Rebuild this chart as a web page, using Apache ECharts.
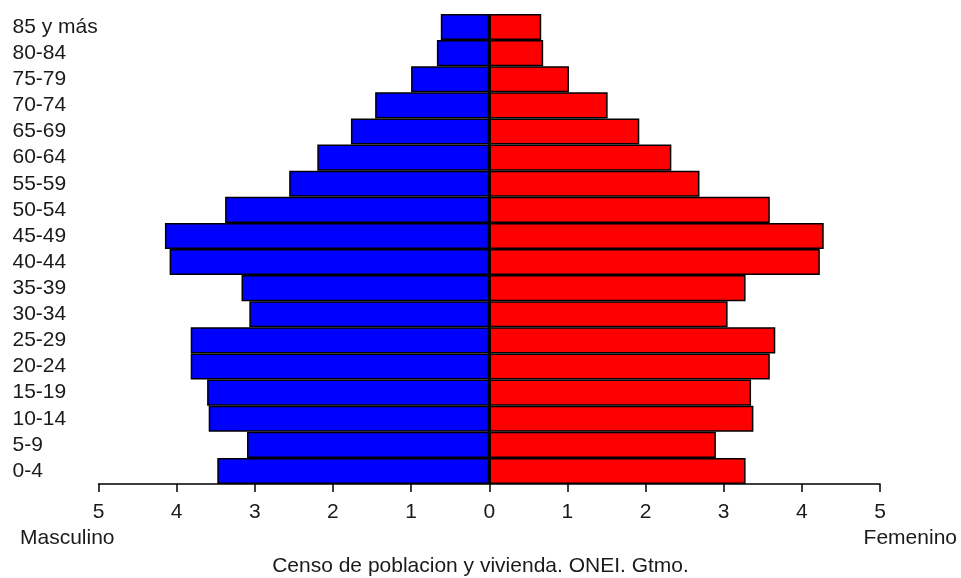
<!DOCTYPE html>
<html>
<head>
<meta charset="utf-8">
<script src="https://cdn.jsdelivr.net/npm/echarts@6/dist/echarts.min.js"></script>
<style>
html,body{margin:0;padding:0;background:#fff;}
#chart{width:961px;height:578px;}
</style>
</head>
<body>
<div id="chart"></div>
<script>
var categories = ['0-4','5-9','10-14','15-19','20-24','25-29','30-34','35-39','40-44','45-49','50-54','55-59','60-64','65-69','70-74','75-79','80-84','85 y más'];
var masculino = [3.48,3.10,3.59,3.61,3.82,3.82,3.07,3.17,4.09,4.15,3.38,2.56,2.20,1.77,1.46,1.00,0.67,0.62];
var femenino  = [3.28,2.90,3.38,3.35,3.59,3.66,3.05,3.28,4.23,4.28,3.59,2.69,2.33,1.92,1.515,1.02,0.69,0.665];
var xTicks = [-5,-4,-3,-2,-1,0,1,2,3,4,5];

var FONT = '"Liberation Sans", Arial, sans-serif';
var TXT = '#1a1a1a';

var chart = echarts.init(document.getElementById('chart'), null, {renderer:'canvas'});
chart.setOption({
  animation:false,
  backgroundColor:'#ffffff',
  grid:{left:98.5, right:81, top:14, bottom:94, containLabel:false},
  xAxis:{
    type:'value', min:xTicks[0], max:xTicks[xTicks.length-1], interval:1,
    axisLine:{show:true, lineStyle:{color:'#000', width:1.5}},
    axisTick:{show:true, length:8, lineStyle:{color:'#000', width:1.5}},
    splitLine:{show:false},
    axisLabel:{margin:18, fontSize:21, fontFamily:FONT, color:TXT,
      formatter:function(v){return String(Math.abs(v));}}
  },
  yAxis:{
    type:'category', data:categories,
    axisLine:{show:false}, axisTick:{show:false},
    axisLabel:{interval:0, align:'left', margin:86, fontSize:21, fontFamily:FONT, color:TXT}
  },
  series:[
    {name:'Masculino', type:'bar', stack:'p', barCategoryGap:0, barWidth:'100%',
     data:masculino.map(function(v){return -v;}),
     itemStyle:{color:'#0000ff', borderColor:'#000', borderWidth:1.5},
     markLine:{silent:true, symbol:['none','none'], label:{show:false},
       lineStyle:{color:'#000', width:2.5, type:'solid'}, data:[{xAxis:0}]}
    },
    {name:'Femenino', type:'bar', stack:'p', barCategoryGap:0, barWidth:'100%',
     data:femenino,
     itemStyle:{color:'#ff0000', borderColor:'#000', borderWidth:1.5}
    }
  ],
  graphic:[
    {type:'text', left:20, top:528, style:{text:'Masculino', font:'21px '+FONT, fill:TXT}},
    {type:'text', right:4, top:528, style:{text:'Femenino', font:'21px '+FONT, fill:TXT}},
    {type:'text', left:'center', top:556, style:{text:'Censo de poblacion y vivienda. ONEI. Gtmo.', font:'21px '+FONT, fill:TXT}}
  ]
});
</script>
</body>
</html>
